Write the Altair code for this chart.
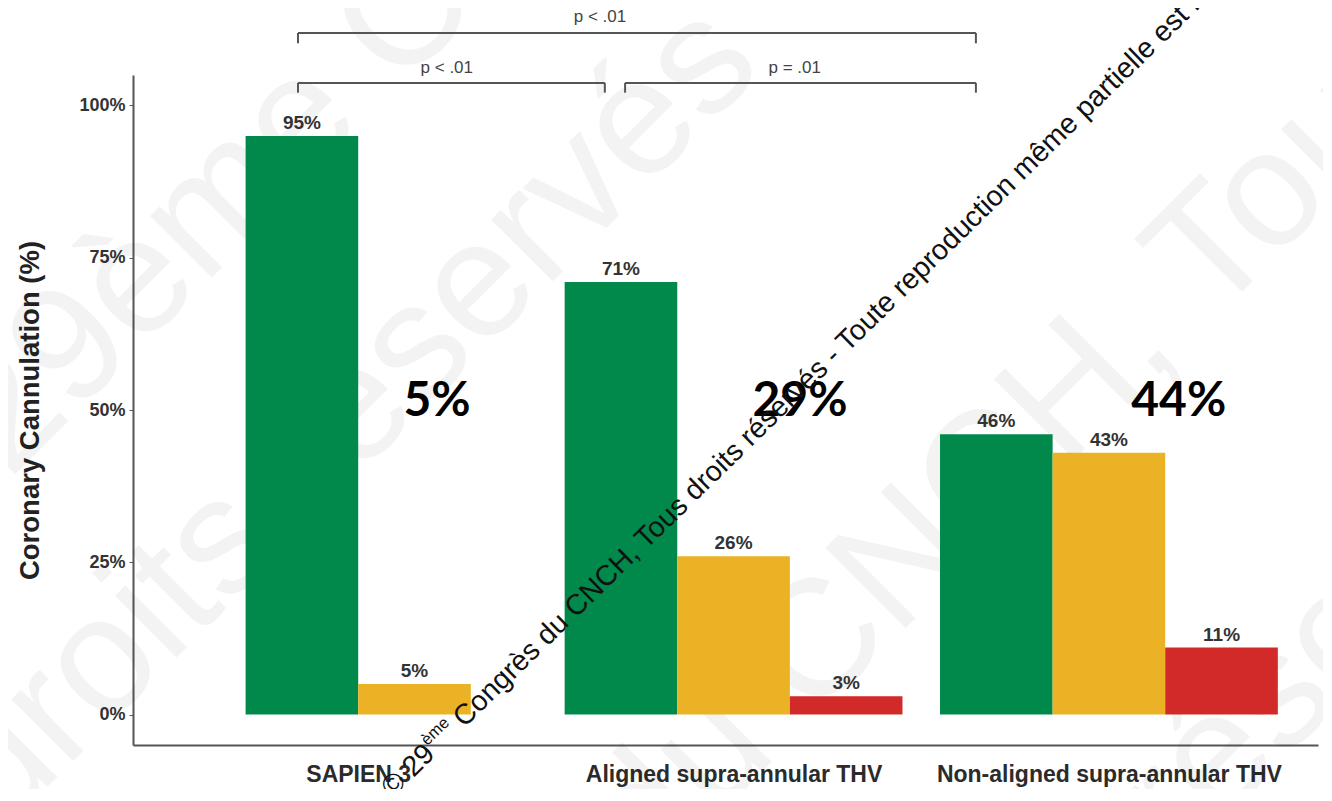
import altair as alt
import pandas as pd

# ---------------- data ----------------
categories = ["SAPIEN 3", "Aligned supra-annular THV", "Non-aligned supra-annular THV"]
series = ["Selective", "Non-selective", "Unsuccessful"]
selective = [95, 71, 46]
non_selective = [5, 26, 43]
unsuccessful = [None, 3, 11]
colors = ["#00894a", "#ecb226", "#d12a28"]

big_labels = ["5%", "29%", "44%"]
big_label_x = [1.21, 2.177, 3.186]
big_label_y = [49.0, 49.0, 49.0]

bracket_text = ["p < .01", "p < .01", "p = .01"]
bracket_x1 = [0.8395, 0.8395, 1.711]
bracket_x2 = [2.6456, 1.657, 2.6456]
bracket_y = [111.9, 103.7, 103.7]
bracket_tick_y = [110.2, 102.1, 102.1]
bracket_text_x = [1.644, 1.236, 2.163]
bracket_text_y = [114.5, 106.1, 106.1]

# copyright line (drawn in pieces for the superscript)
copy_pieces = ["2018 \u00a9 29", "\u00e8me", "Congr\u00e8s du CNCH, Tous droits r\u00e9serv\u00e9s - Toute reproduction m\u00eame partielle est interdite"]
copy_x = [0.955]
copy_y = [-22.0]

# faint large watermark
wm_text = ["29\u00e8me Congr\u00e8s du CNCH", "droits r\u00e9serv\u00e9s", "du CNCH, Tous", "r\u00e9serv\u00e9s"]
wm_x = [0.07, 0.046, 1.777, 3.189]
wm_y = [38.5, -19.6, -27.8, -24.5]

BAR_W = 0.3

# ---------------- tables ----------------
vals = [selective, non_selective, unsuccessful]
rows = []
for gi, cat in enumerate(categories):
    present = [(si, vals[si][gi]) for si in range(len(series)) if vals[si][gi] is not None]
    n = len(present)
    for k, (si, v) in enumerate(present):
        c = gi + 1 + (k - (n - 1) / 2) * BAR_W
        rows.append(dict(category=cat, series=series[si], value=v,
                         x0=c - BAR_W / 2, x1=c + BAR_W / 2, xc=c, label=f"{v}%"))
bars_df = pd.DataFrame(rows)

seg = []
for i in range(len(bracket_text)):
    seg.append(dict(xa=bracket_x1[i], xb=bracket_x2[i], ya=bracket_y[i], yb=bracket_y[i]))
    seg.append(dict(xa=bracket_x1[i], xb=bracket_x1[i], ya=bracket_y[i], yb=bracket_tick_y[i]))
    seg.append(dict(xa=bracket_x2[i], xb=bracket_x2[i], ya=bracket_y[i], yb=bracket_tick_y[i]))
seg_df = pd.DataFrame(seg)
ptext_df = pd.DataFrame(dict(t=bracket_text, x=bracket_text_x, y=bracket_text_y))
big_df = pd.DataFrame(dict(t=big_labels, x=big_label_x, y=big_label_y))
copy_df = pd.DataFrame(dict(x=copy_x, y=copy_y))
wm_df = pd.DataFrame(dict(t=wm_text, x=wm_x, y=wm_y))

# ---------------- scales & axes ----------------
xs = alt.Scale(domain=[0.4, 3.557], nice=False, zero=False)
ys = alt.Scale(domain=[-5, 105], nice=False, zero=False)

label_expr = " : ".join(
    [f"datum.value == {i + 1} ? '{c}'" for i, c in enumerate(categories[:-1])]
) + f" : '{categories[-1]}'"

x_axis = alt.Axis(values=[1, 2, 3], labelExpr=label_expr, ticks=False, grid=False,
                  labelFont="Liberation Sans", labelFontWeight="bold", labelFontSize=23,
                  labelColor="#2b2b2b", labelPadding=18, labelLimit=0, domainColor="#555555",
                  domainWidth=2, title=None, labelFlush=False, labelOverlap=False)
y_axis = alt.Axis(values=[0, 25, 50, 75, 100], labelExpr="datum.value + '%'", grid=False,
                  labelFont="Liberation Sans", labelFontWeight="bold", labelFontSize=18,
                  labelColor="#333333", labelPadding=4, tickColor="#555555", tickSize=4,
                  domainColor="#555555", domainWidth=2,
                  title="Coronary Cannulation (%)", titleFont="Liberation Sans",
                  titleFontWeight="bold", titleFontSize=27.5, titleColor="#222222",
                  titleX=-103, titleY=335, titleAngle=270, titleAlign="center",
                  titleBaseline="middle", titleLimit=0)


def X(field):
    return alt.X(field, scale=xs, axis=x_axis)


def Y(field):
    return alt.Y(field, scale=ys, axis=y_axis)


# faint watermark (bottom-most)
wm = alt.Chart(wm_df).mark_text(align="left", baseline="alphabetic", angle=315,
                                font="Liberation Sans", fontSize=165, color="#000000",
                                opacity=0.045).encode(
    x=X("x:Q"), y=Y("y:Q"), text="t:N")

bars = alt.Chart(bars_df).mark_bar().encode(
    x=X("x0:Q"),
    x2="x1",
    y=Y("value:Q"),
    y2=alt.datum(0),
    color=alt.Color("series:N", scale=alt.Scale(domain=series, range=colors), legend=None),
)

bar_labels = alt.Chart(bars_df).mark_text(baseline="bottom", dy=-3, font="Liberation Sans",
                                          fontWeight="bold", fontSize=19, color="#333333").encode(
    x=X("xc:Q"), y=Y("value:Q"), text="label:N")

rules = alt.Chart(seg_df).mark_rule(color="#555555", strokeWidth=2).encode(
    x=X("xa:Q"), x2="xb", y=Y("ya:Q"), y2="yb")

ptext = alt.Chart(ptext_df).mark_text(baseline="middle", font="Liberation Sans", fontSize=17,
                                      color="#444444").encode(
    x=X("x:Q"), y=Y("y:Q"), text="t:N")

big = alt.Chart(big_df).mark_text(baseline="alphabetic", font="Lato", fontWeight="bold",
                                  fontSize=48, color="#000000").encode(
    x=X("x:Q"), y=Y("y:Q"), text="t:N")

copy_layers = []
piece_dx = [0, 133, 172]
piece_dy = [0, -13, 0]
piece_size = [28.7, 16.5, 28.7]
for i, p in enumerate(copy_pieces):
    copy_layers.append(
        alt.Chart(copy_df).mark_text(align="left", baseline="alphabetic", angle=315.6,
                                     dx=piece_dx[i], dy=piece_dy[i], font="Liberation Sans",
                                     fontSize=piece_size[i], color="#111111").encode(
            x=X("x:Q"), y=Y("y:Q"), text=alt.value(p))
    )

chart = alt.layer(wm, bars, bar_labels, rules, ptext, big, *copy_layers).properties(
    width=1185, height=670,
    autosize=alt.AutoSizeParams(type="none"),
    padding={"left": 125, "top": 67, "right": 5, "bottom": 44},
).configure_view(stroke=None)

chart.save("out.html", embed_options={"renderer": "svg", "actions": False})
